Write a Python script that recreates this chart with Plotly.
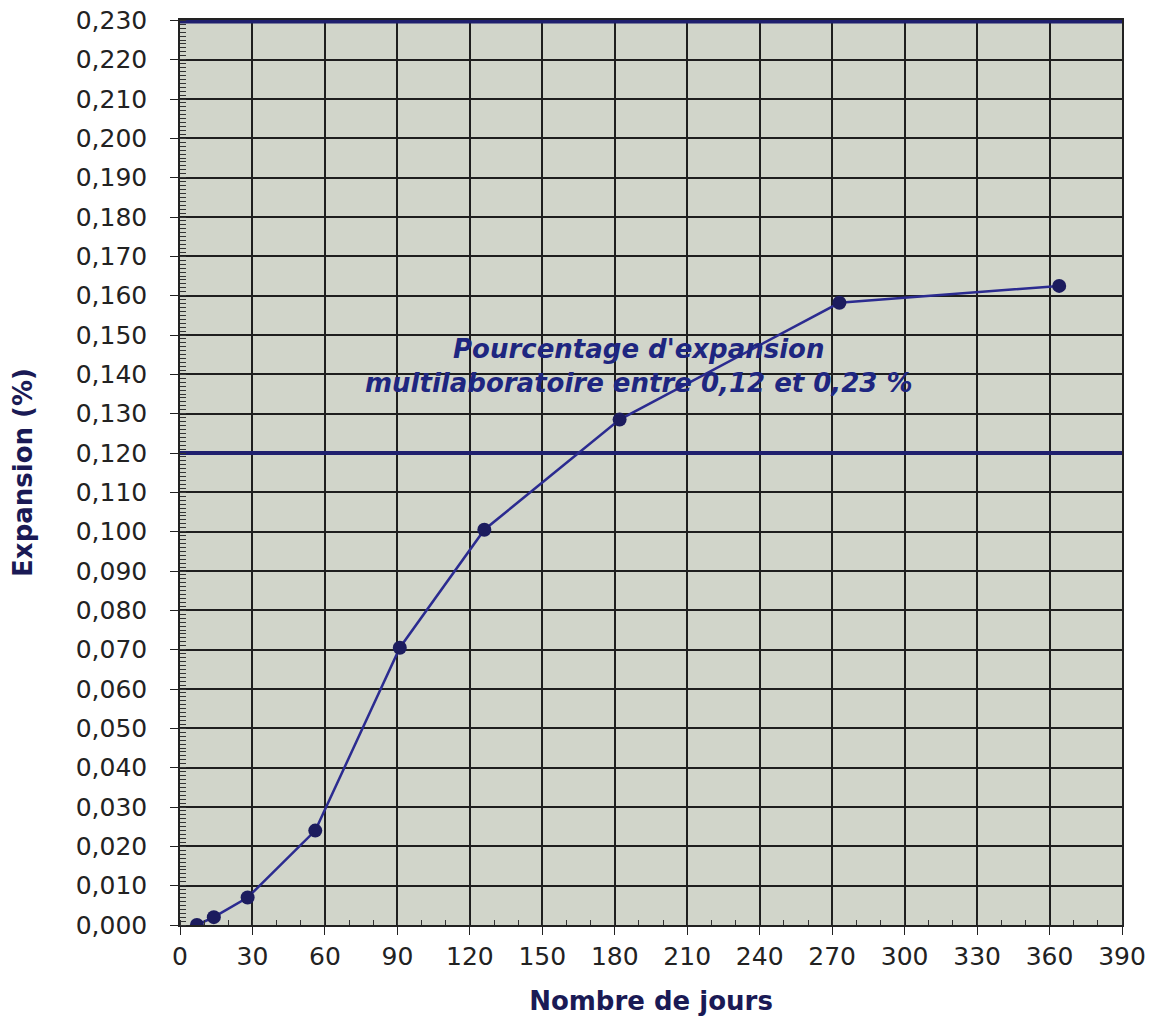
import plotly.graph_objects as go

days = [7, 14, 28, 56, 91, 126, 182, 273, 364]
expansion = [0.000, 0.002, 0.007, 0.024, 0.0705, 0.1005, 0.1285, 0.1582, 0.1625]
limit_low = 0.12
limit_high = 0.23
x_span = [0, 390]
y_ticks = [round(i * 0.01, 3) for i in range(24)]
annotation_text = "Pourcentage d'expansion<br>multilaboratoire entre 0,12 et 0,23 %"

font_family = "DejaVu Sans, Liberation Sans, Arial, sans-serif"

fig = go.Figure()

fig.add_trace(go.Scatter(
    x=x_span, y=[limit_low, limit_low], mode="lines",
    line=dict(color="#1f1f6e", width=4), hoverinfo="skip", showlegend=False))
fig.add_trace(go.Scatter(
    x=x_span, y=[limit_high, limit_high], mode="lines",
    line=dict(color="#1f1f6e", width=6), hoverinfo="skip", showlegend=False, cliponaxis=False))
fig.add_trace(go.Scatter(
    x=days, y=expansion, mode="lines+markers",
    line=dict(color="#2b2b90", width=2.5),
    marker=dict(color="#1c1c5e", size=14),
    showlegend=False))

fig.add_annotation(
    x=190, y=0.1422, xref="x", yref="y", text="<b><i>" + annotation_text + "</i></b>",
    showarrow=False, font=dict(family=font_family, size=26, color="#1e2680"), align="center")

fig.update_layout(
    width=1161, height=1017,
    margin=dict(l=180, r=39, t=20, b=92),
    paper_bgcolor="white",
    plot_bgcolor="#d1d5ca",
    separators=",.",
    font=dict(family=font_family, size=25, color="#222222"),
)

fig.update_xaxes(
    range=[0, 390], tickmode="linear", tick0=0, dtick=30, automargin=False,
    showgrid=True, gridcolor="#1e1e1e", gridwidth=1.5,
    ticks="outside", ticklen=8, tickcolor="#222222",
    minor=dict(dtick=10, ticks="inside", ticklen=5, tickcolor="#333333", showgrid=False),
    showline=True, linecolor="#222222", linewidth=1.5, mirror=True,
    zeroline=False,
    title=dict(text="<b>Nombre de jours</b>", font=dict(size=26, color="#1a1a55"), standoff=22),
)
fig.update_yaxes(
    range=[0, 0.2301], tickmode="array", tickvals=y_ticks, tickformat=".3f", automargin=False,
    showgrid=True, gridcolor="#1e1e1e", gridwidth=1.5,
    ticks="outside", ticklen=8, tickcolor="#222222", ticklabelstandoff=18,
    minor=dict(dtick=0.001, ticks="inside", ticklen=6, tickcolor="#333333", showgrid=False),
    showline=True, linecolor="#222222", linewidth=1.5, mirror=True,
    zeroline=False,
    title=dict(text="<b>Expansion (%)</b>", font=dict(size=26, color="#1a1a55"), standoff=36),
)

fig.write_html("out.html", config={"displayModeBar": False},
               post_script="document.body.style.margin='0';")
